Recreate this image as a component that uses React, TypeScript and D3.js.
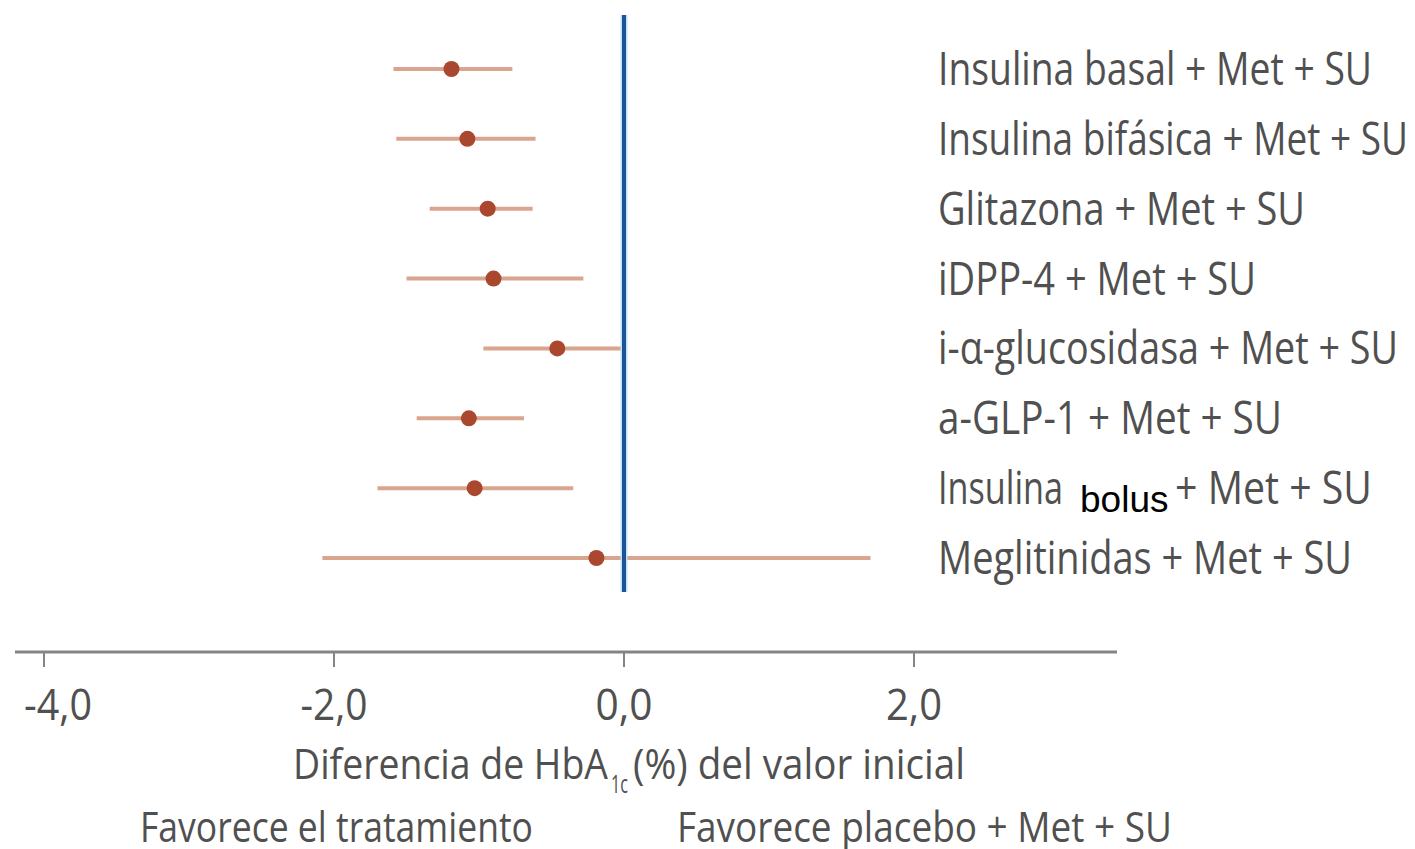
import React from "react";
import * as d3 from "d3";

const categories = [
  "Insulina basal + Met + SU",
  "Insulina bifásica + Met + SU",
  "Glitazona + Met + SU",
  "iDPP-4 + Met + SU",
  "i-α-glucosidasa + Met + SU",
  "a-GLP-1 + Met + SU",
  "Insulina bolus + Met + SU",
  "Meglitinidas + Met + SU",
];
const estimates = [-1.19, -1.08, -0.94, -0.9, -0.46, -1.07, -1.03, -0.19];
const lowerCI = [-1.59, -1.57, -1.34, -1.5, -0.97, -1.43, -1.7, -2.08];
const upperCI = [-0.77, -0.61, -0.63, -0.28, -0.01, -0.69, -0.35, 1.7];
const tickValues = [-4, -2, 0, 2];

// layout (rendered text widths, px)
const labelWidths = [434, 470, 367, 318, 460, 344, 0, 414];
const tickLabelWidths = [68, 67, 57, 56];

const W = 1415;
const H = 849;
const FONT = "'Open Sans', 'Noto Sans', sans-serif";
const TEXT = "#505050";

const locale = d3.formatLocale({
  decimal: ",",
  thousands: ".",
  grouping: [3],
  currency: ["", ""],
  minus: "-",
});
const fmt = locale.format(".1f");

export default function App() {
  const x = d3.scaleLinear().domain([-4.2, 3.4]).range([15, 1117]);
  const y = d3.scalePoint<number>().domain(d3.range(categories.length)).range([69, 558]);
  const axisY = 652;
  const zeroX = x(0);
  const labelX = 938;
  const fs = 45;

  return (
    <svg
      width={W}
      height={H}
      viewBox={`0 0 ${W} ${H}`}
      style={{ position: "absolute", left: 0, top: 0, background: "#fff" }}
    >
      {/* error bars */}
      {categories.map((c, i) => (
        <line
          key={"ci" + i}
          x1={x(lowerCI[i])}
          x2={x(upperCI[i])}
          y1={y(i)!}
          y2={y(i)!}
          stroke="#d9a58e"
          strokeWidth={4}
        />
      ))}
      {/* reference line at 0 */}
      <line x1={zeroX} x2={zeroX} y1={15} y2={592} stroke="#c4e0f6" strokeWidth={7} />
      <line x1={zeroX} x2={zeroX} y1={15} y2={592} stroke="#1b5598" strokeWidth={4} />
      {/* points */}
      {categories.map((c, i) => (
        <circle key={"pt" + i} cx={x(estimates[i])} cy={y(i)!} r={8} fill="#a9482f" />
      ))}
      {/* labels */}
      {categories.map((c, i) => {
        const by = y(i)! + 16;
        if (c.startsWith("Insulina bolus")) {
          return (
            <g key={"lab" + i}>
              <text
                x={labelX}
                y={by}
                fontFamily={FONT}
                fontSize={fs}
                fill={TEXT}
                textLength={125}
                lengthAdjust="spacingAndGlyphs"
              >
                Insulina
              </text>
              <text
                x={1080}
                y={by + 8}
                fontFamily="'Liberation Sans', Arial, sans-serif"
                fontSize={37}
                fill="#000"
              >
                bolus
              </text>
              <text
                x={1175}
                y={by}
                fontFamily={FONT}
                fontSize={fs}
                fill={TEXT}
                textLength={197}
                lengthAdjust="spacingAndGlyphs"
              >
                + Met + SU
              </text>
            </g>
          );
        }
        return (
          <text
            key={"lab" + i}
            x={labelX}
            y={by}
            fontFamily={FONT}
            fontSize={fs}
            fill={TEXT}
            textLength={labelWidths[i]}
            lengthAdjust="spacingAndGlyphs"
          >
            {c}
          </text>
        );
      })}
      {/* x axis */}
      <line x1={x.range()[0]} x2={x.range()[1]} y1={axisY} y2={axisY} stroke="#858585" strokeWidth={3} />
      {tickValues.map((t, i) => (
        <g key={"t" + t}>
          <line x1={x(t)} x2={x(t)} y1={axisY} y2={axisY + 15} stroke="#858585" strokeWidth={2} />
          <text
            x={i === 0 ? 24 : x(t) - tickLabelWidths[i] / 2}
            y={720}
            fontFamily={FONT}
            fontSize={44}
            fill={TEXT}
            textLength={tickLabelWidths[i]}
            lengthAdjust="spacingAndGlyphs"
          >
            {fmt(t)}
          </text>
        </g>
      ))}
      <text x={293} y={779} fontFamily={FONT} fontSize={42} fill={TEXT} textLength={315} lengthAdjust="spacingAndGlyphs">
        Diferencia de HbA
      </text>
      <text x={611} y={793} fontFamily={FONT} fontSize={25} fill={TEXT} textLength={17} lengthAdjust="spacingAndGlyphs">
        1c
      </text>
      <text x={633} y={779} fontFamily={FONT} fontSize={42} fill={TEXT} textLength={332} lengthAdjust="spacingAndGlyphs">
        (%) del valor inicial
      </text>
      <text x={140} y={842} fontFamily={FONT} fontSize={42} fill={TEXT} textLength={393} lengthAdjust="spacingAndGlyphs">
        Favorece el tratamiento
      </text>
      <text x={677} y={842} fontFamily={FONT} fontSize={42} fill={TEXT} textLength={495} lengthAdjust="spacingAndGlyphs">
        Favorece placebo + Met + SU
      </text>
    </svg>
  );
}
